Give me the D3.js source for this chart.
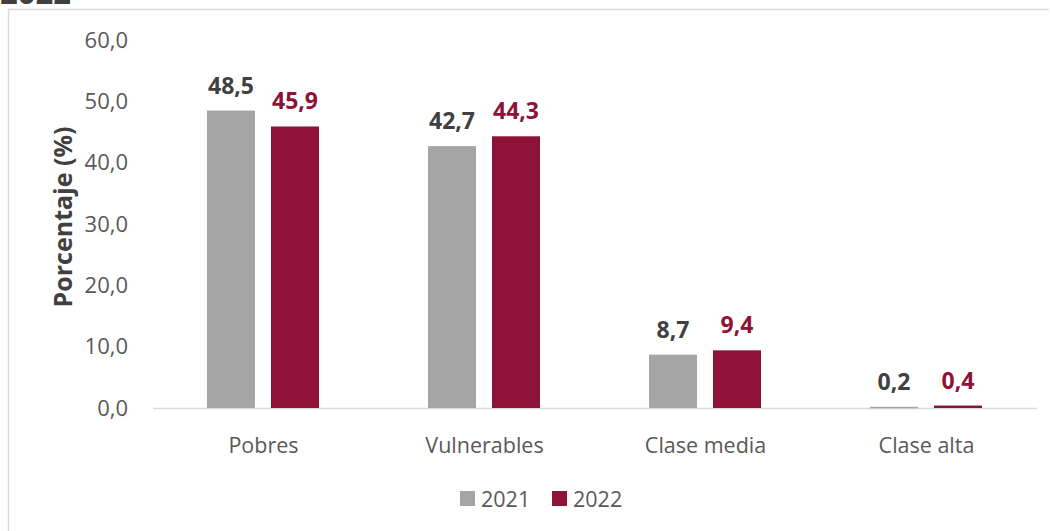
<!DOCTYPE html>
<html><head><meta charset="utf-8">
<script src="https://cdn.jsdelivr.net/npm/d3@7"></script>
<style>body{margin:0;background:#fff;} svg{display:block;font-family:"Open Sans","Noto Sans",sans-serif;}</style>
</head><body>
<svg id="c" width="1050" height="531"></svg>
<script>
const categories = ["Pobres", "Vulnerables", "Clase media", "Clase alta"];
const seriesNames = ["2021", "2022"];
const values2021 = [48.5, 42.7, 8.7, 0.2];
const values2022 = [45.9, 44.3, 9.4, 0.4];
const yTicks = [0, 10, 20, 30, 40, 50, 60];
const colors = ["#A5A5A5", "#8E1238"];
const labelColors = ["#404040", "#8E1238"];

const svg = d3.select("#c");
// frame
svg.append("path").attr("d","M8.5,540 V9.5 H1049").attr("fill","none").attr("stroke","#D9D9D9").attr("stroke-width",1.5);
svg.append("text").attr("x",0).attr("y",4).attr("font-size",31).attr("font-weight","bold").attr("fill","#404040").text("2022");

const x0 = d3.scaleBand().domain(categories).range([153,1037]);
const x1 = d3.scaleBand().domain(seriesNames).range([54,166]).paddingInner(0.25);
const y = d3.scaleLinear().domain([0,60]).range([408,40]);

// y tick labels
const yAxis = d3.axisLeft(y).tickValues(yTicks).tickSize(0).tickPadding(0)
  .tickFormat(d => d3.format(".1f")(d).replace(".",","));
const ga = svg.append("g").attr("transform","translate(128,0)").call(yAxis);
ga.select(".domain").remove();
ga.selectAll("text").attr("font-size",22).attr("fill","#595959").attr("font-family","'Open Sans',sans-serif");

// baseline
svg.append("line").attr("x1",153).attr("x2",1037).attr("y1",408.5).attr("y2",408.5).attr("stroke","#D9D9D9").attr("stroke-width",1.5);

const data = categories.map((c,i)=>({cat:c, vals:[values2021[i], values2022[i]]}));
const groups = svg.selectAll("g.grp").data(data).join("g").attr("class","grp")
  .attr("transform", d=>`translate(${x0(d.cat)},0)`);
groups.selectAll("rect").data(d=>d.vals.map((v,j)=>({v,s:seriesNames[j],j}))).join("rect")
  .attr("x", d=>x1(d.s)).attr("width", x1.bandwidth())
  .attr("y", d=>y(d.v)).attr("height", d=>Math.max(1.5, y(0)-y(d.v)))
  .attr("fill", d=>colors[d.j]);
groups.selectAll("text.val").data(d=>d.vals.map((v,j)=>({v,s:seriesNames[j],j}))).join("text").attr("class","val")
  .attr("x", d=>x1(d.s)+x1.bandwidth()/2).attr("y", d=>y(d.v)-17)
  .attr("text-anchor","middle").attr("font-size",23).attr("font-weight","bold")
  .attr("fill", d=>labelColors[d.j]).text(d=>d3.format(".1f")(d.v).replace(".",","));

// category labels
const xAxis = d3.axisBottom(x0).tickSize(0).tickPadding(0);
const gx = svg.append("g").attr("transform","translate(0,453)").call(xAxis);
gx.select(".domain").remove();
gx.selectAll("text").attr("font-size",21.5).attr("fill","#595959").attr("font-family","'Open Sans',sans-serif").attr("dy","0");

// y title
svg.append("text").attr("transform","translate(72,217) rotate(-90)").attr("text-anchor","middle")
  .attr("font-size",25).attr("font-weight","bold").attr("fill","#404040").text("Porcentaje (%)");

// legend
const legX = [460, 552];
seriesNames.forEach((s,i)=>{
  svg.append("rect").attr("x",legX[i]).attr("y",491).attr("width",15).attr("height",15).attr("fill",colors[i]);
  svg.append("text").attr("x",legX[i]+21).attr("y",507).attr("font-size",21.5).attr("fill","#595959").text(s);
});
</script>
</body></html>
